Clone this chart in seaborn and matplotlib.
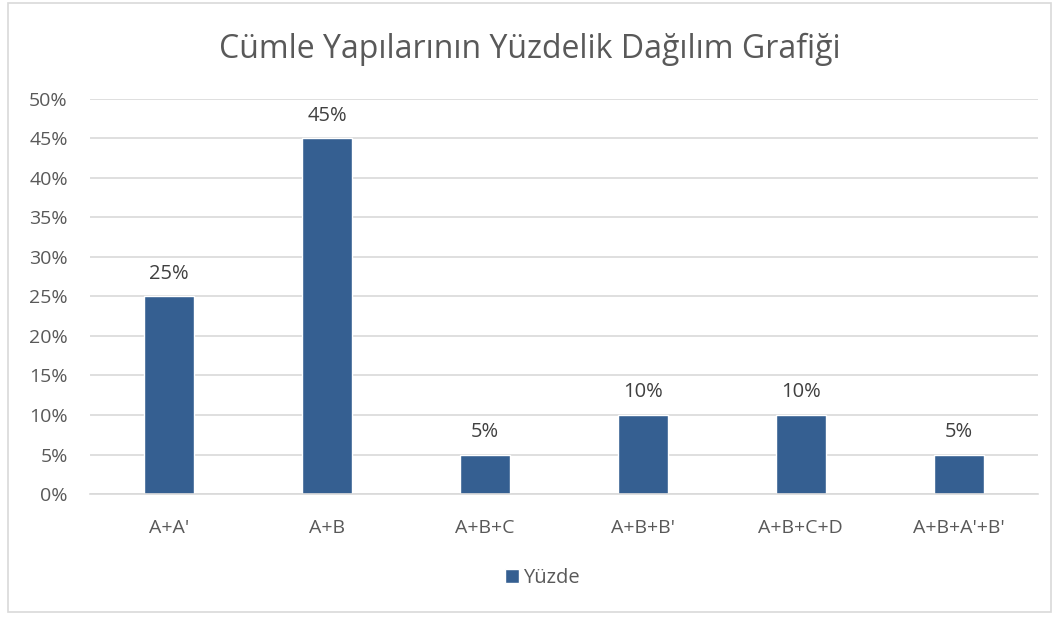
import matplotlib
matplotlib.use("Agg")
import matplotlib.pyplot as plt
import seaborn as sns
import pandas as pd
from matplotlib.patches import Rectangle
from matplotlib.ticker import PercentFormatter

categories = ["A+A'", "A+B", "A+B+C", "A+B+B'", "A+B+C+D", "A+B+A'+B'"]
values = [0.25, 0.45, 0.05, 0.10, 0.10, 0.05]
series_name = "Yüzde"
title = "Cümle Yapılarının Yüzdelik Dağılım Grafiği"

df = pd.DataFrame({"yapi": categories, "oran": values})

sns.set_style("white")
plt.rcParams["font.family"] = ["Open Sans", "DejaVu Sans"]
text_color = "#595959"
bar_color = "#355F91"

fig = plt.figure(figsize=(10.59, 6.18), dpi=100)
ax = fig.add_axes([0.085, 0.2006, 0.895, 0.6394])

sns.barplot(data=df, x="yapi", y="oran", color=bar_color, width=0.32,
            saturation=1, ax=ax, label=series_name)

ax.set_ylim(0, 0.5)
ax.set_yticks([i * 0.05 for i in range(11)])
ax.yaxis.set_major_formatter(PercentFormatter(1.0, decimals=0))
ax.set_xlim(-0.5, len(categories) - 0.5)
ax.grid(axis="y", color="#D9D9D9", linewidth=1.2)
ax.set_axisbelow(True)
for s in ["top", "right", "left"]:
    ax.spines[s].set_visible(False)
ax.spines["bottom"].set_color("#D9D9D9")
ax.spines["bottom"].set_linewidth(1.2)
ax.tick_params(axis="both", length=0, labelsize=14, colors=text_color)
ax.tick_params(axis="x", pad=18)
ax.tick_params(axis="y", pad=16)
ax.set_xlabel("")
ax.set_ylabel("")

for c in ax.containers:
    ax.bar_label(c, labels=[f"{v*100:.0f}%" for v in values], padding=9,
                 fontsize=14.5, color="#404040")

fig.suptitle(title, fontsize=23, color=text_color, y=0.947)

leg = ax.legend(loc="center", bbox_to_anchor=(0.477, -0.212), frameon=False,
                fontsize=14.5, handlelength=0.7, handleheight=0.7,
                handletextpad=0.2)
for t in leg.get_texts():
    t.set_color(text_color)

fig.patches.append(Rectangle((0.008, 0.01), 0.984, 0.985, transform=fig.transFigure,
                             fill=False, edgecolor="#D9D9D9", linewidth=1.2))

fig.savefig("out.png", dpi=100)
